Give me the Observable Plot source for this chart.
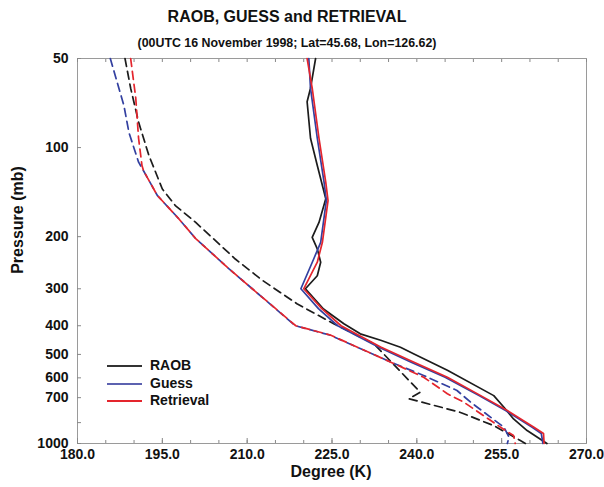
<!DOCTYPE html>
<html><head><meta charset="utf-8">
<script src="https://cdn.jsdelivr.net/npm/d3@7"></script>
<script src="https://cdn.jsdelivr.net/npm/@observablehq/plot@0.6"></script>
<style>
body{margin:0;background:#fff;}
#wrap{position:relative;width:604px;height:487px;font-family:"Liberation Sans",Arial,Helvetica,sans-serif;font-weight:bold;color:#111;}
.t{position:absolute;white-space:nowrap;line-height:1;}
</style></head><body>
<div id="wrap"><div id="chart"></div></div>
<script>
// ---- data (pressure mb, temperature K) ----
const titleText = "RAOB, GUESS and RETRIEVAL";
const subtitleText = "(00UTC 16 November 1998; Lat=45.68, Lon=126.62)";
const xLabel = "Degree (K)";
const yLabel = "Pressure (mb)";
const seriesNames = ["RAOB", "Guess", "Retrieval"];
const seriesColors = ["#1c1c1c", "#3340a0", "#e4252d"];
const pressureTicks = [50, 100, 200, 300, 400, 500, 600, 700, 850, 1000];
const tempTicks = [180, 195, 210, 225, 240, 255, 270];
const tempMinorTicks = [180,185,190,195,200,205,210,215,220,225,230,235,240,245,250,255,260,265,270];

const raobTemp = [[50,222.1],[63,221.2],[70,220.6],[93,221.2],[115,222.4],[149,223.9],[179,222.7],[201,221.5],[220,222.4],[244,223.0],[271,222.4],[300,220.3],[351,223.5],[394,227.1],[426,230.0],[448,233.6],[473,237.1],[498,239.5],[566,245.4],[689,253.6],[754,255.4],[826,257.1],[904,259.5],[1000,263.0]];
const guessTemp = [[50,220.9],[63,221.2],[93,222.4],[131,223.6],[151,224.0],[209,223.0],[237,221.8],[300,219.5],[350,222.6],[400,226.0],[472,233.2],[531,239.0],[597,245.0],[689,251.0],[774,255.7],[881,260.4],[925,262.0],[1000,262.3]];
const retrievalTemp = [[50,220.6],[63,221.5],[93,222.7],[131,223.9],[151,224.3],[209,223.3],[244,222.4],[300,220.0],[350,223.2],[400,226.6],[472,233.6],[531,239.5],[597,245.4],[689,251.3],[774,256.0],[881,260.7],[925,262.4],[1000,262.5]];

const raobDew = [[50,188.4],[63,189.4],[82,190.8],[106,192.6],[138,195.0],[157,197.3],[179,200.9],[238,207.9],[281,212.7],[337,218.8],[394,225.3],[460,232.4],[671,240.6],[706,238.6],[725,240.9],[784,247.6],[870,253.6],[977,258.3],[1000,259.2]];
const guessDew = [[50,185.8],[72,188.2],[89,189.1],[112,190.8],[120,191.7],[145,194.1],[174,197.9],[203,200.9],[257,206.8],[300,210.9],[400,218.5],[430,224.6],[530,235.3],[589,241.2],[662,247.1],[725,249.5],[881,255.4],[952,256.3],[1000,256.0]];
const retrievalDew = [[50,189.4],[68,190.3],[93,190.8],[115,191.4],[120,191.7],[145,194.1],[174,197.9],[203,200.9],[257,206.8],[300,210.9],[400,218.6],[430,224.7],[530,235.3],[597,241.2],[679,245.4],[725,248.3],[881,254.8],[940,257.1],[1000,257.4]];

const tempSeries = [raobTemp, guessTemp, retrievalTemp];
const dewSeries = [raobDew, guessDew, retrievalDew];

const lineMarks = [];
seriesNames.forEach((name, i) => {
  lineMarks.push(Plot.line(dewSeries[i], {x: d => d[1], y: d => d[0], stroke: seriesColors[i], strokeWidth: 1.7, strokeDasharray: "8,5"}));
  lineMarks.push(Plot.line(tempSeries[i], {x: d => d[1], y: d => d[0], stroke: seriesColors[i], strokeWidth: 1.7}));
});

const chart = Plot.plot({
  width: 604, height: 487,
  marginTop: 58, marginLeft: 77, marginRight: 18, marginBottom: 44,
  style: {fontFamily: '"Liberation Sans", Arial, sans-serif', fontSize: "14px", fontWeight: "bold", color: "#111", background: "white"},
  x: {domain: [180, 270]},
  y: {type: "log", domain: [50, 1000], reverse: true},
  marks: [
    Plot.frame({stroke: "#9a9a9a"}),
    Plot.axisX(tempTicks, {anchor: "bottom", tickSize: 0, tickPadding: 6, tickFormat: d => d.toFixed(1), label: null}),
    Plot.axisX(tempMinorTicks, {anchor: "bottom", tickSize: -3, tickFormat: () => "", label: null, stroke: "#888"}),
    Plot.axisX(tempTicks, {anchor: "bottom", tickSize: -5, tickFormat: () => "", label: null, stroke: "#888"}),
    Plot.axisX(tempMinorTicks, {anchor: "top", tickSize: -3, tickFormat: () => "", label: null, stroke: "#888"}),
    Plot.axisY(pressureTicks, {anchor: "left", tickSize: 0, tickPadding: 9, tickFormat: d => String(d), label: null}),
    Plot.axisY(pressureTicks, {anchor: "left", tickSize: -4, tickFormat: () => "", label: null, stroke: "#888"}),
    ...lineMarks
  ]
});
document.getElementById("chart").appendChild(chart);

const wrap = document.getElementById("wrap");
function addText(txt, css) {
  const d = document.createElement("div");
  d.className = "t";
  d.textContent = txt;
  d.style.cssText += css;
  wrap.appendChild(d);
  return d;
}
addText(titleText, "left:0;width:574px;text-align:center;top:9px;font-size:16px;");
addText(subtitleText, "left:0;width:574px;text-align:center;top:37px;font-size:12.4px;");
addText(xLabel, "left:231px;width:200px;text-align:center;top:464px;font-size:16px;");
addText(yLabel, "left:18px;top:220px;font-size:16px;transform:translate(-50%,-50%) rotate(-90deg);");

// legend
const legendY = [365, 383, 400];
const legendLineColors = ["#333333", "#5c62b0", "#e4252d"];
seriesNames.forEach((name, i) => {
  const ln = document.createElement("div");
  ln.style.cssText = `position:absolute;left:107px;width:35px;top:${legendY[i]}px;height:1.5px;background:${legendLineColors[i]};`;
  wrap.appendChild(ln);
  addText(name, `left:150px;top:${legendY[i] - 7}px;font-size:14px;`);
});
</script>
</body></html>
